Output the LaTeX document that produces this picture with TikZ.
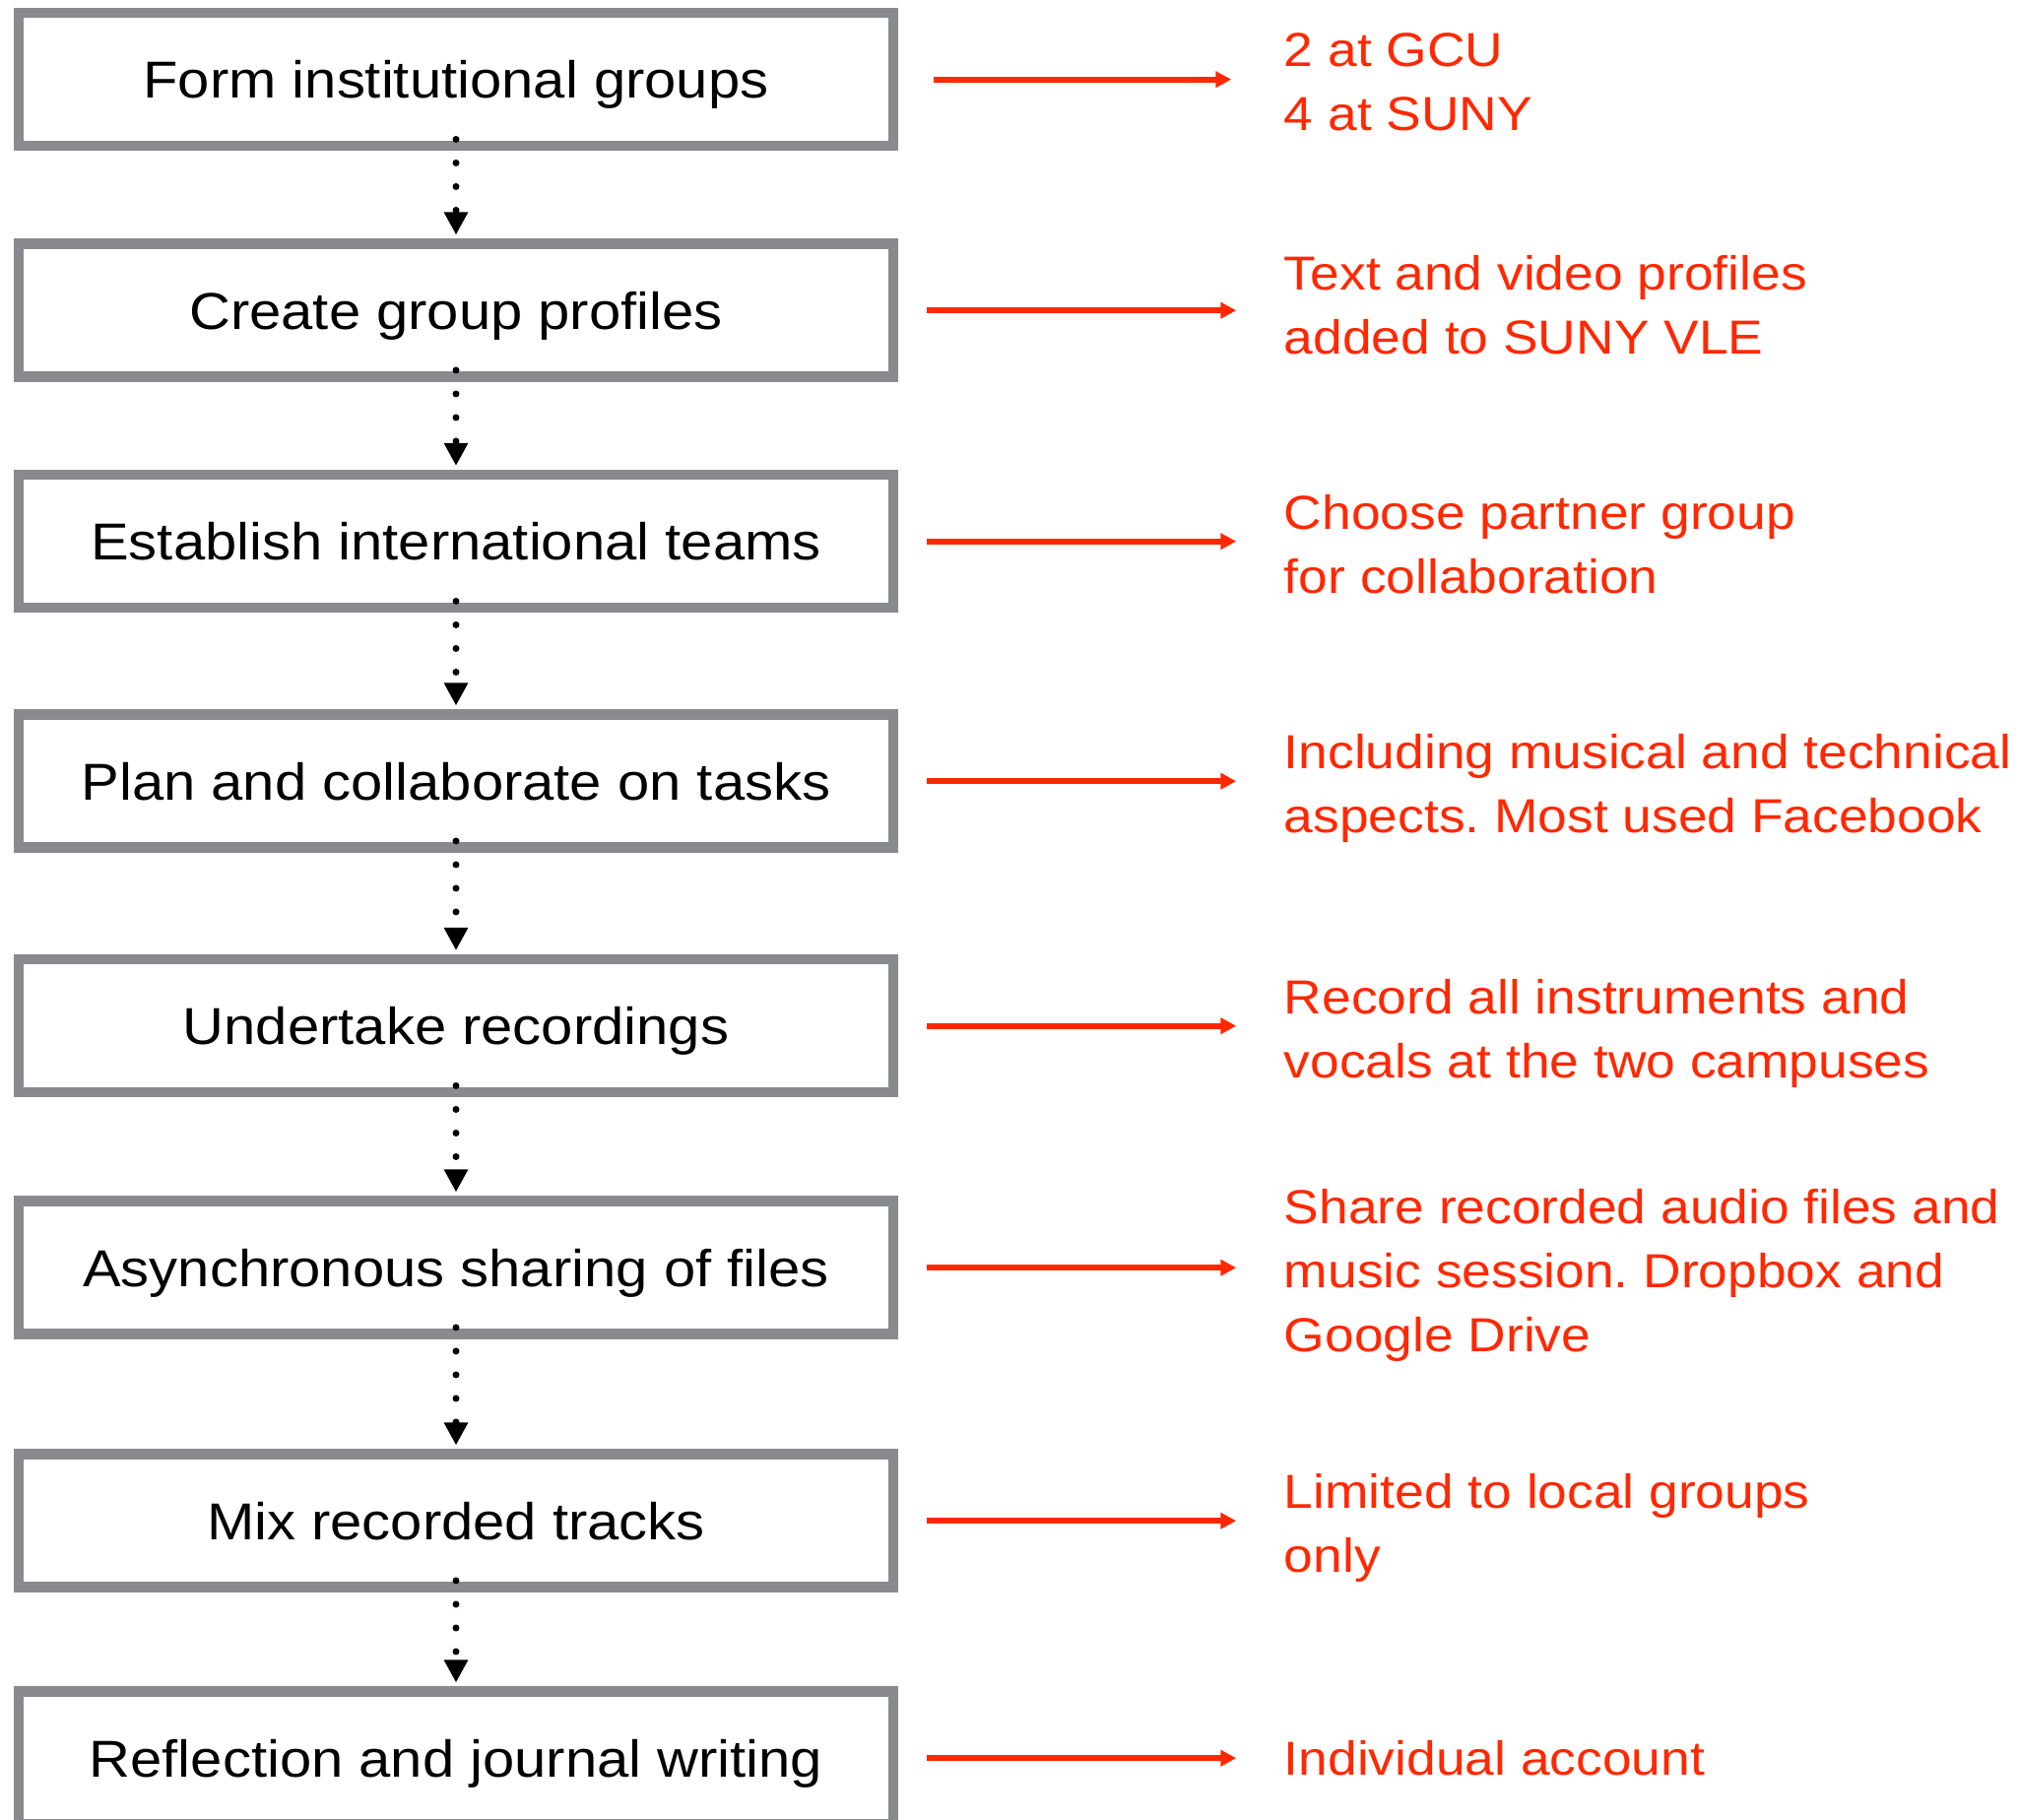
\documentclass[tikz,border=0pt]{standalone}
\usepackage{fontspec}
\setmainfont{Liberation Sans}[FakeStretch=1.1]
\usetikzlibrary{arrows.meta, positioning}
\definecolor{boxgray}{RGB}{136,138,142}
\definecolor{notered}{RGB}{255,40,0}
\newcommand{\capstrut}{\rule[-0.25em]{0pt}{1.216em}}
\frenchspacing

\begin{document}
\begin{tikzpicture}[
        stepbox/.style={rectangle, draw=boxgray, line width=0.105cm, minimum width=8.88cm, minimum height=1.35cm, align=center, font=\fontsize{15}{18}\selectfont, execute at begin node=\capstrut, execute at end node=\capstrut},
        note/.style={align=left, inner sep=0pt, text=notered, font=\fontsize{13.8}{18.5}\selectfont, execute at begin node=\capstrut, execute at end node=\capstrut},
        dropnote/.style={note, yshift=-0.085cm},
        flow/.style={-{Triangle[length=0.23cm, width=0.23cm]}, line width=0.07cm, line cap=round, dash pattern=on 0pt off 0.24cm, shorten <=-0.12cm, shorten >=0.04cm},
        arrow/.style={-{Triangle[length=0.16cm, width=0.16cm]}, draw=notered, line width=0.06cm, shorten <=0.29cm, shorten >=0.48cm}
    ]
    \useasboundingbox (0,0) rectangle (20.5,-18.48);
    \clip (0,0) rectangle (20.5,-18.48);

    % Column 1: project steps
    \node (form) [stepbox] at (4.63,-0.807) {Form institutional groups};
    \node (profiles) [stepbox, below=0.89cm of form] {Create group profiles};
    \node (teams) [stepbox, below=0.89cm of profiles] {Establish international teams};
    \node (plan) [stepbox, below=0.98cm of teams] {Plan and collaborate on tasks};
    \node (record) [stepbox, below=1.03cm of plan] {Undertake recordings};
    \node (share) [stepbox, below=1.0cm of record] {Asynchronous sharing of files};
    \node (mix) [stepbox, below=1.115cm of share] {Mix recorded tracks};
    \node (reflect) [stepbox, below=0.955cm of mix] {Reflection and journal writing};

    % Column 2: notes
    \node (formnote) [dropnote, right=3.91cm of form] {2 at GCU\\4 at SUNY};
    \node (profilesnote) [note, right=3.91cm of profiles] {Text and video profiles\\added to SUNY VLE};
    \node (teamsnote) [dropnote, right=3.91cm of teams] {Choose partner group\\for collaboration};
    \node (plannote) [dropnote, right=3.91cm of plan] {Including musical and technical\\aspects. Most used Facebook};
    \node (recordnote) [dropnote, right=3.91cm of record] {Record all instruments and\\vocals at the two campuses};
    \node (sharenote) [dropnote, right=3.91cm of share] {Share recorded audio files and\\music session. Dropbox and\\Google Drive};
    \node (mixnote) [dropnote, right=3.91cm of mix] {Limited to local groups\\only};
    \node (reflectnote) [note, right=3.91cm of reflect] {Individual account};

    % Dotted arrows between steps
    \draw [flow] (form.south) -- (profiles.north);
    \draw [flow] (profiles.south) -- (teams.north);
    \draw [flow] (teams.south) -- (plan.north);
    \draw [flow] (plan.south) -- (record.north);
    \draw [flow] (record.south) -- (share.north);
    \draw [flow] (share.south) -- (mix.north);
    \draw [flow] (mix.south) -- (reflect.north);

    % Red arrows to notes
    \draw [arrow, shorten <=0.36cm, shorten >=0.53cm] (form.east) -- (form.east -| formnote.west);
    \draw [arrow] (profiles.east) -- (profiles.east -| profilesnote.west);
    \draw [arrow] (teams.east) -- (teams.east -| teamsnote.west);
    \draw [arrow] (plan.east) -- (plan.east -| plannote.west);
    \draw [arrow] (record.east) -- (record.east -| recordnote.west);
    \draw [arrow] (share.east) -- (share.east -| sharenote.west);
    \draw [arrow] (mix.east) -- (mix.east -| mixnote.west);
    \draw [arrow] (reflect.east) -- (reflect.east -| reflectnote.west);
\end{tikzpicture}
\end{document}
